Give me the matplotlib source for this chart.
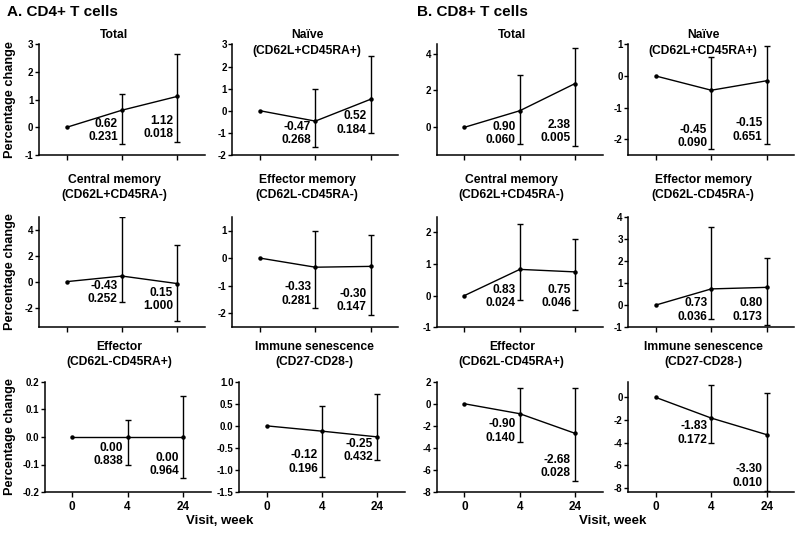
import matplotlib
matplotlib.use("Agg")
import matplotlib.pyplot as plt

plt.rcParams['font.family'] = ['Liberation Sans', 'DejaVu Sans']
plt.rcParams['font.weight'] = 'bold'

weeks = ["0", "4", "24"]

# panels in reading order: CD4 (cols 1-2) and CD8 (cols 3-4), three rows
titles = [
    ("Total", None), ("Naïve", "(CD62L+CD45RA+)"),
    ("Total", None), ("Naïve", "(CD62L+CD45RA+)"),
    ("Central memory", "(CD62L+CD45RA-)"), ("Effector memory", "(CD62L-CD45RA-)"),
    ("Central memory", "(CD62L+CD45RA-)"), ("Effector memory", "(CD62L-CD45RA-)"),
    ("Effector", "(CD62L-CD45RA+)"), ("Immune senescence", "(CD27-CD28-)"),
    ("Effector", "(CD62L-CD45RA+)"), ("Immune senescence", "(CD27-CD28-)"),
]

means = [
    [0, 0.62, 1.12], [0, -0.47, 0.52], [0, 0.90, 2.38], [0, -0.45, -0.15],
    [0, 0.43, -0.15], [0, -0.33, -0.30], [0, 0.83, 0.75], [0, 0.73, 0.80],
    [0, 0.00, 0.00], [0, -0.12, -0.25], [0, -0.90, -2.68], [0, -1.83, -3.30],
]
err_low = [
    [-0.60, -0.55], [-1.65, -1.00], [-0.90, -1.00], [-2.30, -2.15],
    [-1.60, -3.00], [-1.80, -2.05], [-0.15, -0.45], [-0.62, -0.90],
    [-0.10, -0.15], [-1.15, -0.78], [-3.50, -7.00], [-4.00, -8.30],
]
err_high = [
    [1.20, 2.65], [1.00, 2.50], [2.85, 4.30], [0.60, 0.95],
    [5.00, 2.80], [1.00, 0.82], [2.27, 1.80], [3.55, 2.15],
    [0.06, 0.15], [0.45, 0.73], [1.40, 1.40], [1.10, 0.40],
]
change_txt = [
    ["0.62", "1.12"], ["-0.47", "0.52"], ["0.90", "2.38"], ["-0.45", "-0.15"],
    ["-0.43", "0.15"], ["-0.33", "-0.30"], ["0.83", "0.75"], ["0.73", "0.80"],
    ["0.00", "0.00"], ["-0.12", "-0.25"], ["-0.90", "-2.68"], ["-1.83", "-3.30"],
]
p_txt = [
    ["0.231", "0.018"], ["0.268", "0.184"], ["0.060", "0.005"], ["0.090", "0.651"],
    ["0.252", "1.000"], ["0.281", "0.147"], ["0.024", "0.046"], ["0.036", "0.173"],
    ["0.838", "0.964"], ["0.196", "0.432"], ["0.140", "0.028"], ["0.172", "0.010"],
]

# layout (not data)
ylims = [
    (-1, 3), (-2, 3), (-1.5, 4.5), (-2.5, 1),
    (-3.5, 5), (-2.5, 1.5), (-1, 2.5), (-1, 4),
    (-0.2, 0.2), (-1.5, 1.0), (-8, 2), (-8.4, 1.4),
]
yticks = [
    [-1, 0, 1, 2, 3], [-2, -1, 0, 1, 2, 3], [0, 2, 4], [-2, -1, 0, 1],
    [-2, 0, 2, 4], [-2, -1, 0, 1], [-1, 0, 1, 2], [-1, 0, 1, 2, 3, 4],
    [-0.2, -0.1, 0.0, 0.1, 0.2], [-1.5, -1.0, -0.5, 0.0, 0.5, 1.0],
    [-8, -6, -4, -2, 0, 2], [-8, -6, -4, -2, 0],
]
label_y = [
    [-0.12, 0.0], [-1.03, -0.55], [-0.34, -0.22], [-1.92, -1.71],
    [-0.85, -1.36], [-1.3, -1.53], [-0.03, -0.03], [-0.22, -0.22],
    [-0.063, -0.101], [-0.82, -0.56], [-2.47, -5.7], [-3.15, -6.97],
]

W, H = 800, 534
fig = plt.figure(figsize=(W / 100, H / 100), dpi=100)

col_left = [[39, 232.3, 436.8, 628.3], [39, 232.3, 436.8, 628.3], [44.6, 239, 436.8, 628.3]]
row_top = [44.5, 216.7, 381.7]
ax_w, ax_h = 166, 110.4
title_y = [(35, 35, 51), (None, 180, 195), (None, 347, 362)]

for i in range(12):
    r, c = divmod(i, 4)
    left = col_left[r][c]
    top = row_top[r]
    ax = fig.add_axes([left / W, 1 - (top + ax_h) / H, ax_w / W, ax_h / H])
    x = [0, 1, 2]
    ax.plot(x, means[i], color='black', lw=1.0, marker='o', ms=2.2)
    lo = [means[i][k + 1] - err_low[i][k] for k in range(2)]
    hi = [err_high[i][k] - means[i][k + 1] for k in range(2)]
    ax.errorbar(x[1:], means[i][1:], yerr=[lo, hi], fmt='none', ecolor='black',
                elinewidth=1.0, capsize=2, capthick=1.0)
    for k in range(2):
        ax.annotate(change_txt[i][k] + "\n" + p_txt[i][k], (x[k + 1], label_y[i][k]),
                    xytext=(-3, 0), textcoords='offset points', ha='right', va='center',
                    fontsize=8.6, fontweight='bold', linespacing=1.15)
    ax.set_xlim(-0.5, 2.5)
    ax.set_ylim(*ylims[i])
    ax.set_yticks(yticks[i])
    if i in (8, 9):
        ax.set_yticklabels([f"{v:.1f}" for v in yticks[i]])
    else:
        ax.set_yticklabels([f"{v:g}" for v in yticks[i]])
    ax.set_xticks(x)
    if r == 2:
        ax.set_xticklabels(weeks, fontsize=8.5, fontweight='bold')
    else:
        ax.set_xticklabels([])
    ax.tick_params(axis='y', labelsize=7, length=3, width=1, pad=1)
    ax.tick_params(axis='x', length=3.5, width=1, pad=3)
    for s in ('top', 'right'):
        ax.spines[s].set_visible(False)
    for s in ('left', 'bottom'):
        ax.spines[s].set_linewidth(1.1)

    cx = left + ax_w / 2 - 8
    t1, t2 = titles[i]
    if t2 is None:
        fig.text(cx / W, 1 - title_y[r][0] / H, t1, ha='center', va='center', fontsize=8.7)
    else:
        fig.text(cx / W, 1 - title_y[r][1] / H, t1, ha='center', va='center', fontsize=8.7)
        fig.text(cx / W, 1 - title_y[r][2] / H, t2, ha='center', va='center', fontsize=8.7)

    if c == 0:
        fig.text(10 / W, 1 - (top + ax_h / 2) / H, "Percentage change", rotation=90,
                 ha='center', va='center', fontsize=9.2)

fig.text(7 / W, 1 - 12 / H, "A. CD4+ T cells", ha='left', va='center', fontsize=11)
fig.text(417 / W, 1 - 12 / H, "B. CD8+ T cells", ha='left', va='center', fontsize=11)
fig.text(220 / W, 1 - 521 / H, "Visit, week", ha='center', va='center', fontsize=9.5)
fig.text(613 / W, 1 - 521 / H, "Visit, week", ha='center', va='center', fontsize=9.5)

fig.savefig("out.png", dpi=100)
